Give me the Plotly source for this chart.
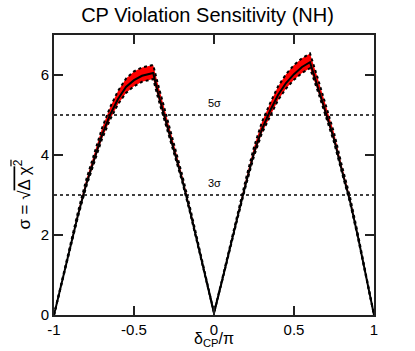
import plotly.graph_objects as go

delta = [-1.00, -0.95, -0.90, -0.85, -0.80, -0.75, -0.70, -0.65, -0.60, -0.55, -0.50, -0.45, -0.40, -0.38,
         -0.35, -0.30, -0.25, -0.20, -0.15, -0.10, -0.05, 0.00,
         0.05, 0.10, 0.15, 0.20, 0.25, 0.30, 0.35, 0.40, 0.45, 0.50, 0.55, 0.60,
         0.65, 0.70, 0.75, 0.80, 0.85, 0.90, 0.95, 1.00]
sigma_central = [0.00, 0.85, 1.70, 2.50, 3.25, 3.90, 4.50, 5.00, 5.40, 5.70, 5.87, 5.98, 6.04, 6.05,
                 5.55, 4.85, 4.10, 3.40, 2.60, 1.75, 0.90, 0.05,
                 0.85, 1.70, 2.50, 3.30, 4.05, 4.65, 5.10, 5.50, 5.80, 6.02, 6.20, 6.32,
                 5.70, 5.07, 4.40, 3.60, 2.85, 1.95, 1.00, 0.00]
sigma_upper = [0.00, 0.87, 1.75, 2.58, 3.36, 4.04, 4.67, 5.19, 5.60, 5.91, 6.09, 6.19, 6.24, 6.25,
               5.77, 5.04, 4.26, 3.52, 2.69, 1.80, 0.93, 0.06,
               0.88, 1.75, 2.58, 3.41, 4.20, 4.83, 5.29, 5.71, 6.02, 6.25, 6.42, 6.54,
               5.90, 5.25, 4.56, 3.72, 2.95, 2.01, 1.03, 0.00]
sigma_lower = [0.00, 0.84, 1.68, 2.46, 3.19, 3.82, 4.40, 4.88, 5.27, 5.55, 5.72, 5.83, 5.89, 5.90,
               5.43, 4.75, 4.03, 3.35, 2.56, 1.72, 0.89, 0.05,
               0.84, 1.68, 2.46, 3.25, 3.97, 4.55, 4.98, 5.37, 5.66, 5.88, 6.05, 6.17,
               5.58, 4.97, 4.32, 3.55, 2.81, 1.92, 0.99, 0.00]

levels = [5, 3]
level_labels = ["5σ", "3σ"]
x_ticks = [-1, -0.5, 0, 0.5, 1]
x_tick_labels = ["-1", "-0.5", "0", "0.5", "1"]
y_ticks = [0, 2, 4, 6]

fig = go.Figure()
fig.add_trace(go.Scatter(x=delta, y=sigma_lower, mode="lines",
                         line=dict(color="black", width=2, dash="dot"), showlegend=False))
fig.add_trace(go.Scatter(x=delta, y=sigma_upper, mode="lines", fill="tonexty",
                         fillcolor="red", line=dict(color="black", width=2, dash="dot"),
                         showlegend=False))
fig.add_trace(go.Scatter(x=delta, y=sigma_central, mode="lines",
                         line=dict(color="black", width=2), showlegend=False))
for lv, lab in zip(levels, level_labels):
    fig.add_trace(go.Scatter(x=[-1, 1], y=[lv, lv], mode="lines",
                             line=dict(color="black", width=1.5, dash="dot"), showlegend=False))
    fig.add_annotation(x=0, y=lv + 0.3, text=lab, showarrow=False,
                       font=dict(size=11, color="black"))

fig.add_annotation(x=0, y=-0.086, xref="x", yref="paper",
                   text="δ<sub>CP</sub>/π", showarrow=False, font=dict(size=16, color="black"),
                   yanchor="middle")
fig.add_annotation(x=-0.1, xref="paper", y=0.43, yref="paper", xanchor="center", yanchor="middle",
                   text="σ = √<span style='text-decoration:overline'>Δ χ<sup>2</sup></span>",
                   showarrow=False, textangle=-90, font=dict(size=17, color="black"))

fig.update_layout(
    width=415, height=351,
    margin=dict(l=54, r=41, t=35, b=36, autoexpand=False),
    paper_bgcolor="white", plot_bgcolor="white",
    font=dict(family="Liberation Sans, Arial, sans-serif", color="black"),
    title=dict(text="CP Violation Sensitivity (NH)", x=0.5, xanchor="center",
               y=1 - 15 / 351, yanchor="middle", font=dict(size=20, color="black")),
)
fig.update_xaxes(range=[-1, 1], tickvals=x_ticks, ticktext=x_tick_labels,
                 ticks="inside", ticklen=9, tickwidth=1.5, tickcolor="#222",
                 showline=True, linecolor="#222", linewidth=2, mirror="ticks",
                 showgrid=False, zeroline=False, tickfont=dict(size=15))
fig.update_yaxes(range=[0, 7], tickvals=y_ticks,
                 ticks="inside", ticklen=9, tickwidth=1.5, tickcolor="#222",
                 showline=True, linecolor="#222", linewidth=2, mirror="ticks",
                 showgrid=False, zeroline=False, tickfont=dict(size=15))

fig.write_html("out.html", config={"displayModeBar": False},
               post_script="document.body.style.margin='0';document.body.style.overflow='hidden';")
